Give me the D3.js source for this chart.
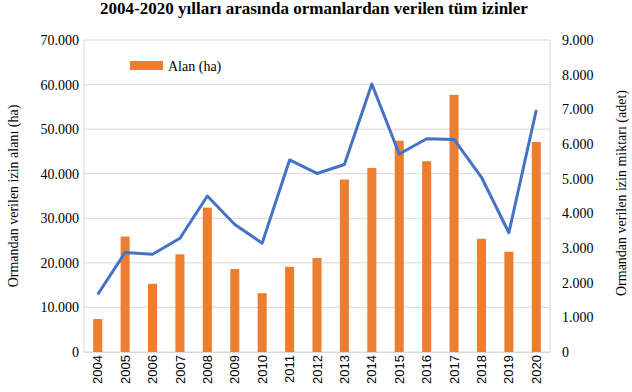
<!DOCTYPE html>
<html>
<head>
<meta charset="utf-8">
<script src="https://cdn.jsdelivr.net/npm/d3@7"></script>
<style>
  body { margin: 0; background: #fff; }
  svg text { fill: #000; }
</style>
</head>
<body>
<svg id="chart" width="632" height="392"></svg>
<script>
// veriler
const years = ['2004','2005','2006','2007','2008','2009','2010','2011','2012','2013','2014','2015','2016','2017','2018','2019','2020'];
const alanHa = [7400, 25900, 15300, 21900, 32400, 18600, 13200, 19100, 21100, 38700, 41300, 47400, 42800, 57700, 25400, 22500, 47100];
const izinAdet = [1660, 2870, 2820, 3280, 4500, 3680, 3140, 5540, 5150, 5410, 7730, 5710, 6150, 6130, 5040, 3440, 6980];
const leftTicks = [0, 10000, 20000, 30000, 40000, 50000, 60000, 70000];
const rightTicks = [0, 1000, 2000, 3000, 4000, 5000, 6000, 7000, 8000, 9000];

const svg = d3.select('#chart');
const margin = { top: 40, right: 82, bottom: 40, left: 84 };
const width = 632, height = 392;
const plotWidth = width - margin.left - margin.right;
const plotHeight = height - margin.top - margin.bottom;
const serif = 'Liberation Serif, Times New Roman, serif';
const sans = 'Liberation Sans, Arial, sans-serif';

const g = svg.append('g').attr('transform', `translate(${margin.left},${margin.top})`);

const x = d3.scaleBand().domain(years).range([0, plotWidth]).paddingInner(0.67).paddingOuter(0.335);
const yL = d3.scaleLinear().domain([0, 70000]).range([plotHeight, 0]);
const yR = d3.scaleLinear().domain([0, 9000]).range([plotHeight, 0]);
const fmt = d => d === 0 ? '0' : d3.format(',')(d).replace(/,/g, '.');

// grid
g.selectAll('.grid')
    .data(leftTicks)
    .enter()
    .append('line')
    .attr('x1', 0).attr('x2', plotWidth)
    .attr('y1', d => yL(d)).attr('y2', d => yL(d))
    .attr('stroke', '#d9d9d9').attr('stroke-width', 1);

g.append('line').attr('x1', 0).attr('x2', 0).attr('y1', 0).attr('y2', plotHeight).attr('stroke', '#d9d9d9');
g.append('line').attr('x1', plotWidth).attr('x2', plotWidth).attr('y1', 0).attr('y2', plotHeight).attr('stroke', '#d9d9d9');

// bars
g.selectAll('rect.bar')
    .data(alanHa)
    .enter()
    .append('rect')
    .attr('class', 'bar')
    .attr('x', (d, i) => x(years[i]))
    .attr('y', d => yL(d))
    .attr('width', x.bandwidth())
    .attr('height', d => plotHeight - yL(d))
    .attr('fill', '#ed7d31');

// line
const line = d3.line()
    .x((d, i) => x(years[i]) + x.bandwidth() / 2)
    .y(d => yR(d));
g.append('path')
    .datum(izinAdet)
    .attr('d', line)
    .attr('fill', 'none')
    .attr('stroke', '#4472c4')
    .attr('stroke-width', 3)
    .attr('stroke-linejoin', 'round');

// axes
const axL = g.append('g').call(d3.axisLeft(yL).tickValues(leftTicks).tickFormat(fmt).tickSize(0).tickPadding(5));
axL.select('.domain').remove();
axL.attr('font-family', serif).attr('font-size', 14);
axL.selectAll('text').attr('fill', '#000');

const axR = g.append('g').attr('transform', `translate(${plotWidth},0)`)
    .call(d3.axisRight(yR).tickValues(rightTicks).tickFormat(fmt).tickSize(0).tickPadding(12));
axR.select('.domain').remove();
axR.attr('font-family', serif).attr('font-size', 14);
axR.selectAll('text').attr('fill', '#000');

const axB = g.append('g').attr('transform', `translate(0,${plotHeight})`)
    .call(d3.axisBottom(x).tickSize(0));
axB.select('.domain').attr('stroke', '#d9d9d9');
axB.attr('font-family', sans).attr('font-size', 13);
axB.selectAll('text')
    .attr('fill', '#000')
    .attr('transform', 'rotate(-90)')
    .attr('text-anchor', 'end')
    .attr('x', -3).attr('y', 0).attr('dy', '0.35em');

// title
svg.append('text')
    .attr('x', 314).attr('y', 14)
    .attr('text-anchor', 'middle')
    .attr('font-family', serif).attr('font-weight', 'bold').attr('font-size', 17)
    .text('2004-2020 yılları arasında ormanlardan verilen tüm izinler');

// axis titles
svg.append('text')
    .attr('transform', `translate(18,${margin.top + plotHeight / 2}) rotate(-90)`)
    .attr('text-anchor', 'middle')
    .attr('font-family', serif).attr('font-size', 14)
    .text('Ormandan verilen izin alanı (ha)');
svg.append('text')
    .attr('transform', `translate(626,${margin.top + plotHeight / 2 - 3}) rotate(-90)`)
    .attr('text-anchor', 'middle')
    .attr('font-family', serif).attr('font-size', 14)
    .text('Ormandan verilen izin miktarı (adet)');

// legend
svg.append('rect').attr('x', 130).attr('y', 61).attr('width', 33).attr('height', 9).attr('fill', '#ed7d31');
svg.append('text').attr('x', 168).attr('y', 71)
    .attr('font-family', serif).attr('font-size', 14)
    .text('Alan (ha)');
</script>
</body>
</html>
